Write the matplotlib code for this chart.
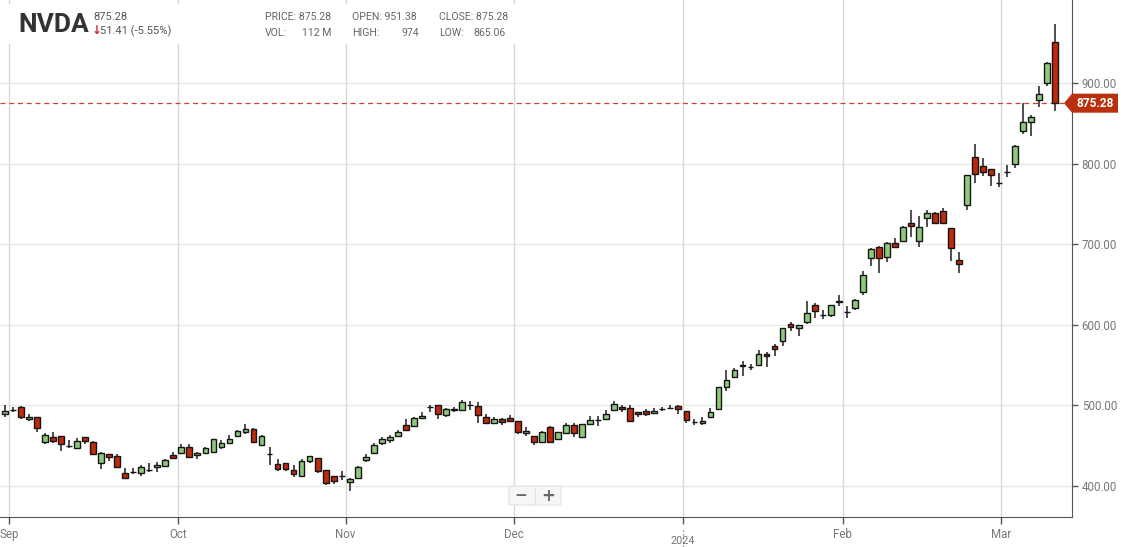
import numpy as np
import matplotlib.pyplot as plt
from matplotlib.patches import Rectangle, FancyBboxPatch, Polygon
from matplotlib.transforms import blended_transform_factory

# NVDA daily candles, 30 Aug 2023 -> 8 Mar 2024 (one entry per trading day)
opens = [489.6, 494.2, 497.5, 482.6, 485.1, 454.8, 460.2, 461.4, 449.5, 446.5,
         460.2, 454.4, 427.8, 439.0, 436.5, 415.3, 417.4, 415.3, 419.1, 422.8,
         424.1, 437.8, 440.2, 447.7, 437.8, 440.2, 441.5, 448.5, 452.7, 462.2,
         467.2, 470.1, 450.2, 439.4, 427.0, 427.8, 419.5, 412.4, 430.3, 434.0,
         419.5, 411.6, 411.6, 404.1, 409.1, 432.4, 440.2, 452.7, 457.3, 461.4,
         475.5, 474.7, 483.8, 497.5, 500.0, 487.6, 495.0, 494.2, 500.8, 499.2,
         485.1, 477.6, 482.6, 484.2, 480.5, 465.1, 461.4, 454.8, 472.6, 457.7,
         466.0, 475.5, 460.2, 476.3, 481.7, 482.6, 493.4, 497.1, 495.9, 490.9,
         492.9, 490.0, 495.0, 495.9, 499.2, 492.5, 479.3, 477.2, 485.1, 495.0,
         523.1, 535.6, 549.8, 547.3, 550.5, 563.5, 573.8, 579.2, 601.2, 595.4,
         602.8, 624.8, 612.0, 612.4, 629.8, 616.1, 620.7, 640.6, 683.0, 696.6,
         684.2, 701.7, 704.5, 726.4, 703.7, 732.7, 739.0, 741.5, 720.3, 680.9,
         749.2, 807.9, 796.7, 793.8, 776.4, 790.1, 800.0, 841.3, 852.5, 879.3,
         900.8, 951.38]
highs = [500.4, 497.5, 499.2, 489.2, 485.5, 465.1, 466.4, 461.8, 456.8, 459.3,
         460.6, 456.0, 442.3, 439.8, 439.4, 422.0, 422.0, 425.3, 428.6, 429.5,
         432.8, 441.9, 451.9, 451.9, 442.3, 447.7, 458.0, 456.8, 462.7, 469.3,
         476.8, 471.4, 463.1, 447.7, 433.2, 428.0, 425.7, 432.8, 436.7, 434.2,
         419.7, 411.8, 418.2, 409.1, 424.1, 439.4, 452.7, 460.6, 463.1, 469.3,
         482.6, 485.5, 491.7, 500.0, 500.2, 495.9, 497.5, 506.6, 505.4, 503.3,
         489.2, 485.1, 484.6, 488.0, 480.7, 472.6, 461.6, 467.6, 474.3, 467.2,
         478.4, 477.6, 476.5, 486.7, 486.7, 494.2, 505.4, 499.6, 500.0, 492.1,
         495.0, 495.9, 497.5, 500.0, 500.8, 492.7, 483.0, 485.1, 496.3, 522.6,
         543.9, 546.0, 554.3, 551.5, 568.8, 565.5, 576.3, 596.0, 603.3, 599.8,
         629.0, 626.9, 618.6, 625.0, 636.4, 623.6, 632.3, 667.2, 695.4, 697.5,
         702.9, 707.9, 722.4, 742.6, 735.6, 743.1, 740.2, 744.4, 720.5, 690.0,
         786.0, 824.0, 806.6, 794.0, 788.8, 798.8, 823.6, 876.0, 860.7, 897.1,
         926.0, 974.0]
lows = [485.0, 490.9, 482.6, 479.7, 467.2, 451.9, 453.5, 443.6, 446.5, 446.1,
        451.9, 438.6, 420.7, 430.7, 422.4, 409.5, 414.1, 412.4, 417.4, 417.4,
        422.8, 434.0, 440.0, 434.0, 433.2, 440.0, 441.3, 445.2, 452.5, 461.0,
        464.3, 453.5, 450.0, 426.1, 418.7, 418.7, 411.2, 411.2, 427.8, 416.2,
        400.8, 401.6, 407.0, 393.8, 409.0, 429.9, 440.0, 450.6, 452.7, 461.0,
        468.5, 473.4, 482.6, 491.3, 483.4, 485.5, 491.3, 493.4, 493.4, 478.4,
        477.4, 476.8, 475.9, 479.3, 464.7, 462.2, 450.6, 453.5, 454.6, 457.5,
        465.8, 460.2, 460.0, 476.1, 474.3, 482.4, 492.5, 490.9, 480.7, 485.1,
        486.7, 488.8, 492.9, 495.0, 488.8, 477.2, 475.5, 475.5, 485.0, 494.8,
        517.8, 535.4, 536.8, 544.3, 550.3, 548.0, 561.4, 573.4, 591.7, 586.3,
        600.8, 608.7, 606.6, 609.5, 623.6, 608.2, 618.2, 637.3, 673.4, 664.2,
        677.6, 696.4, 703.7, 709.4, 697.1, 721.5, 725.7, 725.7, 678.8, 664.0,
        743.0, 776.0, 784.7, 772.3, 771.1, 783.5, 794.6, 837.2, 834.7, 870.2,
        896.7, 865.06]
closes = [492.9, 494.2, 485.1, 485.1, 471.4, 463.1, 456.0, 451.5, 448.7, 455.6,
          456.0, 439.0, 440.2, 435.3, 422.8, 409.9, 417.4, 422.8, 419.1, 425.3,
          431.5, 434.8, 447.7, 435.3, 440.6, 446.5, 457.7, 452.7, 457.7, 468.0,
          470.1, 454.8, 461.8, 439.4, 421.2, 421.2, 414.1, 430.3, 436.5, 418.2,
          402.9, 405.8, 411.6, 408.3, 423.2, 435.7, 450.6, 458.1, 460.6, 466.8,
          469.7, 483.8, 486.7, 497.5, 488.8, 495.0, 493.4, 503.7, 500.0, 487.6,
          477.6, 482.6, 478.8, 480.9, 467.2, 468.0, 454.8, 466.4, 454.8, 466.4,
          475.5, 466.0, 476.3, 481.3, 481.7, 489.2, 501.2, 495.0, 480.9, 488.4,
          488.8, 492.9, 495.0, 495.9, 495.0, 481.3, 479.3, 480.5, 491.3, 522.4,
          531.5, 543.9, 548.2, 547.3, 563.8, 560.5, 570.4, 595.8, 597.1, 599.6,
          614.5, 616.5, 612.0, 624.8, 627.7, 616.1, 631.1, 662.2, 694.6, 682.9,
          701.7, 696.6, 721.5, 722.8, 721.5, 739.0, 726.5, 726.5, 695.4, 675.9,
          785.5, 787.6, 790.1, 786.4, 776.4, 790.1, 822.3, 852.1, 857.9, 886.8,
          925.6, 875.28]

month_labels = ['Sep', 'Oct', 'Nov', 'Dec', '', 'Feb', 'Mar']
price_ticks = [400, 500, 600, 700, 800, 900]
last_price = 875.28

o = np.array(opens); h = np.array(highs); l = np.array(lows); c = np.array(closes)
x = np.arange(len(o))
# where the month boundaries fall on the trading-day axis
month_pos = [0.5, 21.6, 42.5, 63.5, 84.55, 104.5, 124.3]

W, H = 1124, 547
AXW = 1072
fig = plt.figure(figsize=(W / 100, H / 100), dpi=100)
ax = fig.add_axes([0, 1 - 517 / H, AXW / W, 517 / H])

ax.set_xlim(-0.62, 133.1)
ax.set_ylim(361, 1003.5)

# grid
for p in price_ticks:
    ax.axhline(p, color='#e9e9e9', lw=1, zorder=0)
for m in month_pos:
    ax.axvline(m, color='#d8d8d8', lw=1, zorder=0)

# candles
up = c >= o
fill = np.where(up, '#8fc97e', '#bf2a0c')
ax.vlines(x, l, h, color='#1e1e1e', lw=1.1, zorder=2)
ax.bar(x, np.abs(c - o), bottom=np.minimum(o, c), width=0.72, color=fill,
       edgecolor='#151515', linewidth=1.0, zorder=3)

# last price line + tag
ax.axhline(last_price, color='#c9432c', lw=0.9, dashes=(4, 3), zorder=1)
tr = blended_transform_factory(ax.transAxes, ax.transData)
hh = 9.5 / 0.8035  # half tag height in price units
tag = Polygon([(1 - 8 / AXW, last_price), (1 + 0 / AXW, last_price + hh),
               (1 + 46 / AXW, last_price + hh), (1 + 46 / AXW, last_price - hh),
               (1 + 0 / AXW, last_price - hh)], closed=True, transform=tr,
              fc='#b9300f', ec='none', clip_on=False, zorder=6)
ax.add_patch(tag)
ax.text(1 + 23 / AXW, last_price, f'{last_price:.2f}', transform=tr,
        ha='center', va='center', color='white', fontsize=8.6, fontweight='bold',
        family='Roboto', zorder=7, clip_on=False)

# axes styling
for s in ['left', 'top']:
    ax.spines[s].set_visible(False)
ax.spines['right'].set_color('#555555')
ax.spines['bottom'].set_color('#555555')
ax.yaxis.tick_right()
ax.set_yticks(price_ticks)
ax.set_yticklabels([f'{p:.2f}' for p in price_ticks])
ax.tick_params(axis='y', length=4, width=1, color='#555555', labelcolor='#777777',
               labelsize=8.3, pad=3)
ax.set_xticks(month_pos)
ax.set_xticklabels(month_labels)
ax.tick_params(axis='x', length=5, width=1, color='#555555', labelcolor='#777777',
               labelsize=8.3, pad=3)
for t in ax.get_xticklabels():
    t.set_family(['Liberation Sans Narrow', 'Roboto'])
for t in ax.get_yticklabels():
    t.set_family('Roboto')

# year marker under January
ax.plot([month_pos[4], month_pos[4]], [-0.025, -0.06], ls=(0, (1, 2)), color='#777777',
        lw=0.9, transform=blended_transform_factory(ax.transData, ax.transAxes),
        clip_on=False)
fig.text(682.5 / W, 1 - 536 / H, '2024', ha='center', va='top', color='#777777',
         fontsize=7.8, family=['Liberation Sans Narrow', 'Roboto'])

# header panel (hides the grid behind it)
fig.patches.append(Rectangle((0, 1 - 44 / H), 560 / W, 40 / H, transform=fig.transFigure,
                             fc='white', ec='none', zorder=1))
fig.text(18 / W, 1 - 25 / H, 'NVDA', ha='left', va='center', fontsize=19,
         fontweight='bold', color='#333333', family=['Liberation Sans Narrow', 'Roboto'])
fig.text(93 / W, 1 - 17 / H, '875.28', ha='left', va='center', fontsize=8,
         color='#555555', family='Roboto')
fig.text(92 / W, 1 - 31 / H, '↓', ha='left', va='center', fontsize=8.5,
         fontweight='bold', color='#d8232a', family='DejaVu Sans')
fig.text(100 / W, 1 - 31 / H, '51.41 (-5.55%)', ha='left', va='center', fontsize=8,
         color='#555555', family='Roboto')
info = [(265, 'PRICE:', '875.28', 'VOL:', '112 M'),
        (352, 'OPEN:', '951.38', 'HIGH:', '974'),
        (439, 'CLOSE:', '875.28', 'LOW:', '865.06')]
for px, k1, v1, k2, v2 in info:
    fig.text(px / W, 1 - 17 / H, f'{k1} {v1}', ha='left', va='center', fontsize=7.6,
             color='#666666', family='Roboto')
    fig.text(px / W, 1 - 33 / H, k2, ha='left', va='center', fontsize=7.6,
             color='#666666', family='Roboto')
    fig.text((px + 67) / W, 1 - 33 / H, v2, ha='right', va='center', fontsize=7.6,
             color='#666666', family='Roboto')

# zoom buttons
fig.patches.append(FancyBboxPatch((509 / W, 1 - 505 / H), 52 / W, 19 / H,
                                  boxstyle='round,pad=0,rounding_size=0.002',
                                  transform=fig.transFigure, fc='#f6f6f6',
                                  ec='#e2e2e2', lw=0.8, zorder=2))
fig.text(521 / W, 1 - 496 / H, '−', ha='center', va='center', fontsize=11,
         fontweight='bold', color='#666666', zorder=3)
fig.text(548 / W, 1 - 496 / H, '+', ha='center', va='center', fontsize=12,
         fontweight='bold', color='#666666', zorder=3)
fig.lines.append(plt.Line2D([535 / W, 535 / W], [1 - 488 / H, 1 - 504 / H],
                            transform=fig.transFigure, color='#e2e2e2', lw=0.8, zorder=3))

fig.savefig('out.png', dpi=100)
